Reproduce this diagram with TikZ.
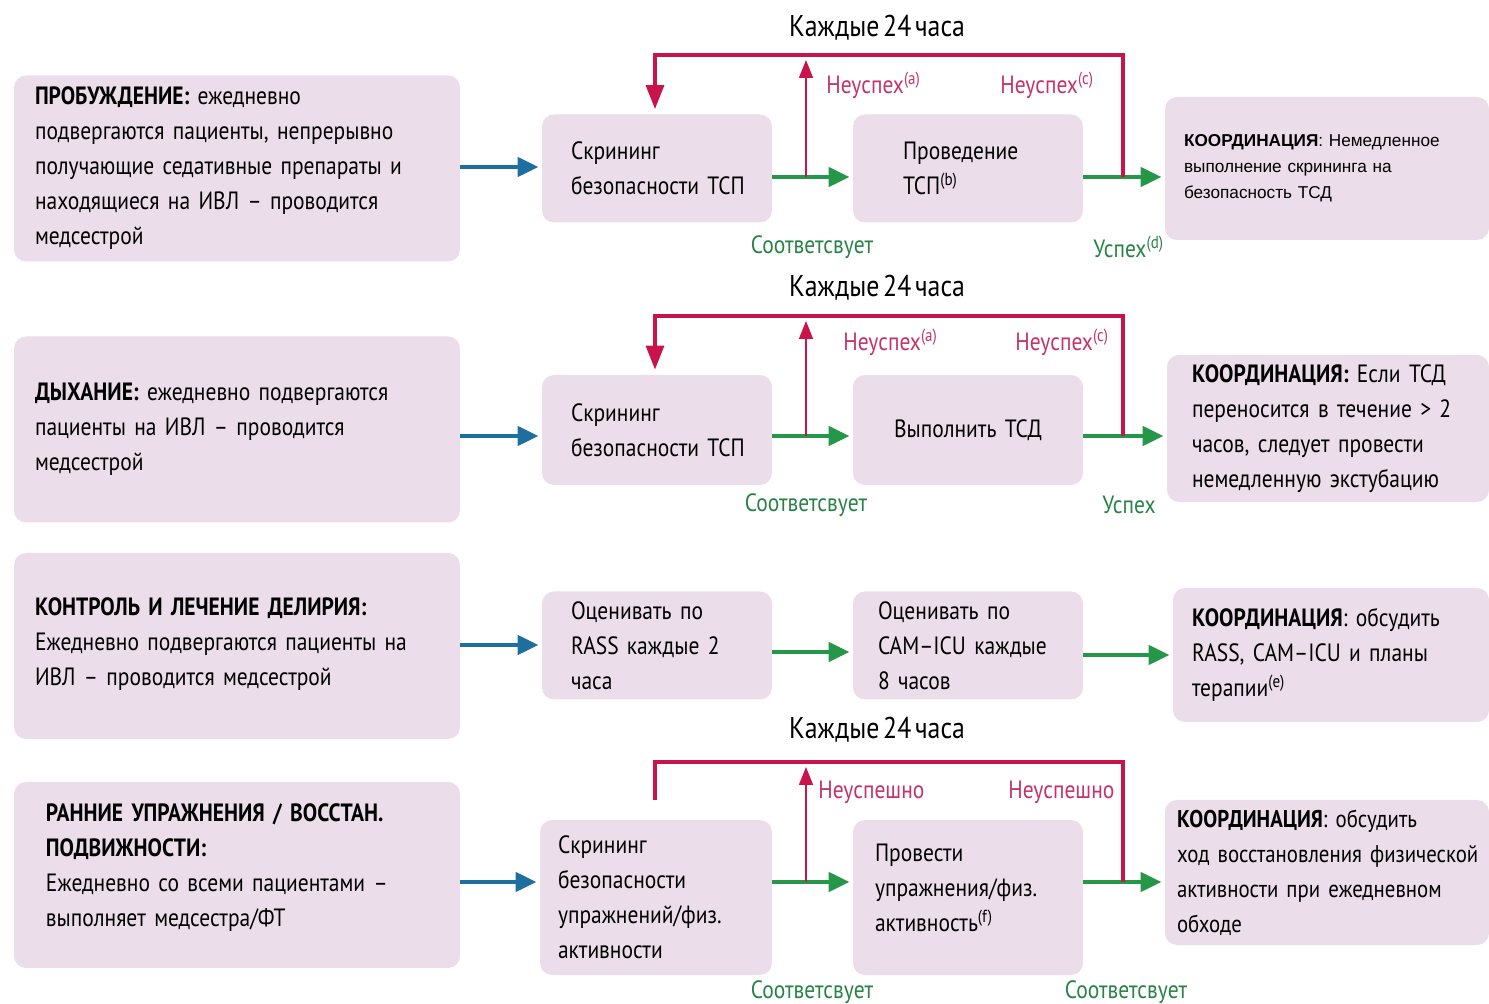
\documentclass[tikz,border=0pt]{standalone}
\usepackage{fontspec}
\setmainfont[FakeStretch=0.86,WordSpace=0.55]{PT Sans}
\newfontfamily\arialfont{Liberation Sans}
\usetikzlibrary{arrows.meta,shapes}
\definecolor{boxpink}{RGB}{235,221,234}
\definecolor{feedblue}{RGB}{31,110,160}
\definecolor{passgreen}{RGB}{38,150,72}
\definecolor{failred}{RGB}{200,20,75}
\definecolor{failtext}{RGB}{196,50,108}
\definecolor{passtext}{RGB}{40,130,70}
\newcommand{\boxfont}{\fontsize{12.5}{17.5}\selectfont}
\newcommand{\notefont}{\arialfont\fontsize{8.6}{13}\selectfont}
\newcommand{\periodfont}{\fontsize{15}{18}\selectfont}
\newcommand{\fnote}[1]{\textsuperscript{(#1)}}
\tikzstyle{block}=[rectangle,rounded corners=6pt,fill=boxpink,align=left,font=\boxfont]
\tikzstyle{sidebox}=[block,text width=202pt,inner xsep=10.5pt,minimum height=93pt]
\tikzstyle{stepbox}=[block,minimum height=54pt,inner xsep=14.5pt,text width=86pt]
\tikzstyle{coordbox}=[block,inner xsep=9.5pt]
\tikzstyle{flow} = [draw,line width=2.2pt,shorten >=1.5pt,-{Triangle[length=10.5pt,width=9.5pt]}]
\tikzstyle{feed} = [flow,feedblue]
\tikzstyle{pass} = [flow,passgreen]
\tikzstyle{loopline} = [draw,failred,line width=1.6pt]
\tikzstyle{retry} = [loopline,shorten >=2.5pt,-{Triangle[length=12pt,width=9pt]}]
\tikzstyle{failup} = [draw,failred,line width=0.8pt,shorten >=2.5pt,-{Triangle[length=9pt,width=7pt]}]
\tikzstyle{faillabel}=[text=failtext,font=\boxfont,anchor=west,inner sep=0pt]
\tikzstyle{passlabel}=[text=passtext,font=\boxfont,inner sep=0pt]
\tikzstyle{period}=[font=\periodfont,inner sep=0pt]
\begin{document}
\begin{tikzpicture}[x=0.5pt,y=-0.5pt]
    \useasboundingbox (0,0) rectangle (1489,1004);
    % Left column: the four bundle elements
    \node[sidebox] (w1) at (237,168.5) {\textbf{ПРОБУЖДЕНИЕ:} ежедневно\\ подвергаются пациенты, непрерывно\\ получающие седативные препараты и\\ находящиеся на ИВЛ – проводится\\ медсестрой};
    \node[sidebox] (w2) at (237,429.5) {\textbf{ДЫХАНИЕ:} ежедневно подвергаются\\ пациенты на ИВЛ – проводится\\ медсестрой};
    \node[sidebox] (w3) at (237,646) {\textbf{КОНТРОЛЬ И ЛЕЧЕНИЕ ДЕЛИРИЯ:}\\ Ежедневно подвергаются пациенты на\\ ИВЛ – проводится медсестрой\\[-13.5pt]\mbox{}};
    \node[sidebox,inner xsep=16pt,text width=191pt] (w4) at (237,875) {\textbf{РАННИЕ УПРАЖНЕНИЯ / ВОССТАН.}\\ \textbf{ПОДВИЖНОСТИ:}\\ Ежедневно со всеми пациентами –\\ выполняет медсестра/ФТ\\[-7.5pt]\mbox{}};
    % Middle steps
    \node[stepbox] (s1) at (657,168.5) {Скрининг\\ безопасности~ТСП};
    \node[stepbox,inner xsep=25pt,text width=65pt] (p1) at (968,168.5) {Проведение\\ ТСП\fnote{b}};
    \node[stepbox,minimum height=55pt] (s2) at (657,430) {Скрининг\\ безопасности~ТСП};
    \node[stepbox,minimum height=55pt,align=center] (p2) at (968,430) {Выполнить~ТСД};
    \node[stepbox] (s3) at (657,645.5) {Оценивать~по\\ RASS~каждые~2\\ часа};
    \node[stepbox,inner xsep=12.5pt,text width=90pt] (p3) at (968,645.5) {Оценивать~по\\ CAM–ICU~каждые\\ 8~часов};
    \node[stepbox,inner xsep=9pt,text width=98pt,minimum height=77.5pt] (s4) at (656,897.5) {Скрининг\\ безопасности\\ упражнений/физ.\\ активности};
    \node[stepbox,inner xsep=11pt,text width=93pt,minimum height=77.5pt] (p4) at (968,897.5) {Провести\\ упражнения/физ.\\ активность\fnote{f}\\[-7.5pt]\mbox{}};
    % Coordination boxes
    \node[coordbox,font=\notefont,minimum width=162pt,minimum height=71.5pt,text width=143pt] (c1) at (1327,168.5) {\textbf{КООРДИНАЦИЯ}: Немедленное\\ выполнение скрининга на\\ безопасность ТСД};
    \node[coordbox,inner xsep=12.5pt,minimum width=161pt,minimum height=73.5pt,text width=136pt] (c2) at (1328,428.5) {\textbf{КООРДИНАЦИЯ:} Если ТСД\\ переносится в течение > 2\\ часов, следует провести\\ немедленную экстубацию};
    \node[coordbox,minimum width=158pt,minimum height=67pt,text width=139pt] (c3) at (1331,655) {\textbf{КООРДИНАЦИЯ}: обсудить\\ RASS, CAM–ICU и планы\\ терапии\fnote{e}};
    \node[coordbox,font=\fontsize{12.1}{17.5}\selectfont,inner xsep=6pt,minimum width=162pt,minimum height=72.5pt,text width=150pt] (c4) at (1327,872.5) {\textbf{КООРДИНАЦИЯ}: обсудить\\ ход~восстановления~физической\\ активности при ежедневном\\ обходе};
    % Blue and green arrows
    \foreach \source/\dest/\dy in {w1/s1/0.75pt, w2/s2/-3.25pt, w3/s3/0.5pt, w4/s4/-3.5pt}
        \path[feed] ([yshift=\dy]\source.east) coordinate (tmp) -- (tmp -| \dest.west);
    \foreach \source/\dest/\dy in {s1/p1/-4.25pt, p1/c1/-4.25pt, s2/p2/-3pt, p2/c2/-3pt,
                                   s3/p3/-3.25pt, p3/c3/-4.75pt, s4/p4/7.75pt, p4/c4/7.75pt}
        \path[pass] ([yshift=\dy]\source.east) coordinate (tmp) -- (tmp -| \dest.west);
    % Red loops, every 24 hours
    \coordinate (j1a) at (806,177);  \coordinate (j1b) at (1123,177); \coordinate (l1) at (655,55);
    \coordinate (j2a) at (806,436);  \coordinate (j2b) at (1123,436); \coordinate (l2) at (655,316);
    \coordinate (j4a) at (806,882);  \coordinate (j4b) at (1123,882); \coordinate (l4) at (655,762);
    \coordinate (e4) at (655,800);
    \path[failup] (j1a) -- (j1a |- l1);
    \path[retry] (j1b) |- (l1) -- (l1 |- s1.north);
    \path[failup] (j2a) -- (j2a |- l2);
    \path[retry] (j2b) |- (l2) -- (l2 |- s2.north);
    \path[failup] (j4a) -- (j4a |- l4);
    \path[loopline] (j4b) |- (l4) -- (e4);
    % Labels
    \node[period] (t1) at (877,28) {Каждые 24 часа};
    \node[period] (t2) at (877,288) {Каждые 24 часа};
    \node[period] (t3) at (877,730) {Каждые 24 часа};
    \node[faillabel] (f1a) at (826,85) {Неуспех\fnote{a}};
    \node[faillabel] (f1c) at (1000,85) {Неуспех\fnote{c}};
    \node[faillabel] (f2a) at (843,342) {Неуспех\fnote{a}};
    \node[faillabel] (f2c) at (1015,342) {Неуспех\fnote{c}};
    \node[faillabel] (f4a) at (818,792) {Неуспешно};
    \node[faillabel] (f4c) at (1008,792) {Неуспешно};
    \node[passlabel] (m1) at (812,247) {Соответсвует};
    \node[passlabel,anchor=west] (ok1) at (1093,247) {Успех\fnote{d}};
    \node[passlabel] (m2) at (806,505) {Соответсвует};
    \node[passlabel] (ok2) at (1129,505) {Успех};
    \node[passlabel] (m4a) at (812,992) {Соответсвует};
    \node[passlabel] (m4b) at (1126,992) {Соответсвует};
\end{tikzpicture}
\end{document}
